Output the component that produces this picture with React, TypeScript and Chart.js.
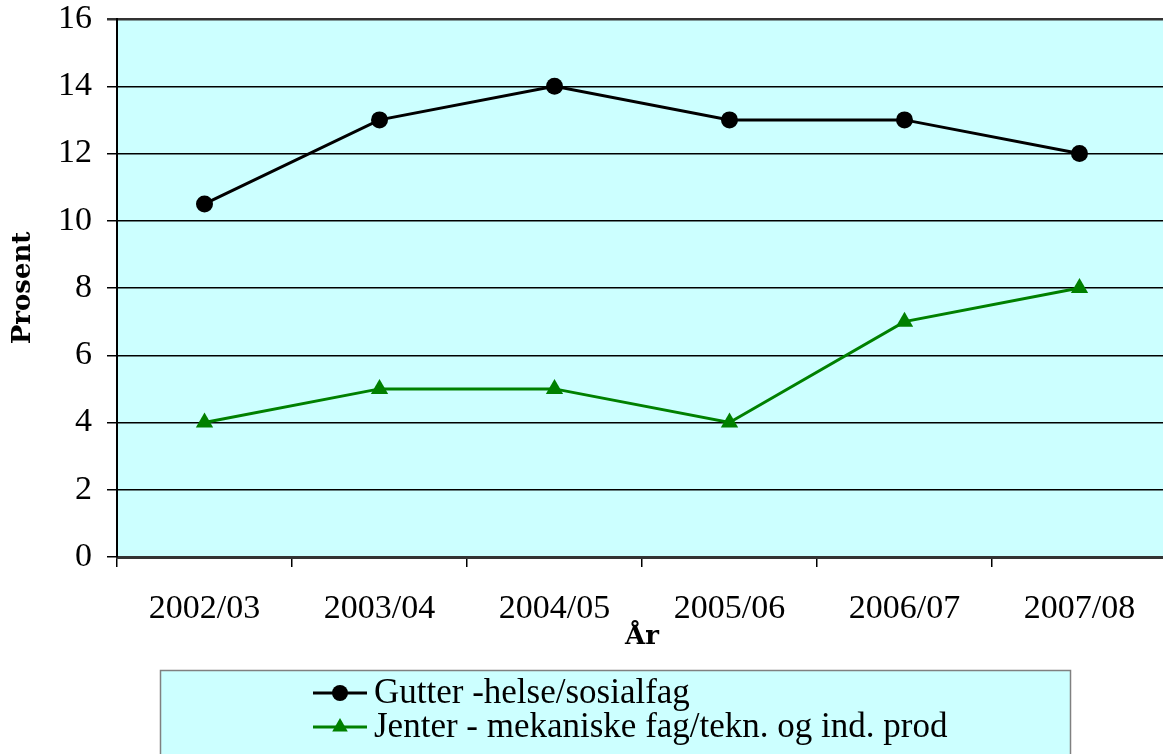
import React, { useEffect, useRef } from "react";
import { Chart, registerables } from "chart.js";

Chart.register(...registerables);

const categories = ["2002/03", "2003/04", "2004/05", "2005/06", "2006/07", "2007/08"];
const gutterLabel = "Gutter -helse/sosialfag";
const gutterValues = [10.5, 13, 14, 13, 13, 12];
const jenterLabel = "Jenter - mekaniske fag/tekn. og ind. prod";
const jenterValues = [4, 5, 5, 4, 7, 8];
const yAxisTitle = "Prosent";
const xAxisTitle = "År";

const BG = "#CCFFFF";
const SERIF = "'Liberation Serif', 'Times New Roman', serif";
const SERIF_BOLD = "'DejaVu Serif', serif";

const plotBackground = {
  id: "plotBackground",
  beforeDraw(chart: any) {
    const { ctx, chartArea } = chart;
    ctx.save();
    ctx.fillStyle = BG;
    ctx.fillRect(chartArea.left, chartArea.top, chartArea.right - chartArea.left, chartArea.bottom - chartArea.top);
    ctx.restore();
  },
};

const boxLegend = {
  id: "boxLegend",
  afterDraw(chart: any) {
    const { ctx } = chart;
    ctx.save();
    ctx.fillStyle = BG;
    ctx.strokeStyle = "#808080";
    ctx.lineWidth = 1.5;
    ctx.fillRect(160, 670, 910, 100);
    ctx.strokeRect(160.5, 670.5, 910, 100);
    const rows = [693, 727];
    chart.data.datasets.forEach((ds: any, i: number) => {
      const y = rows[i];
      ctx.strokeStyle = ds.borderColor;
      ctx.lineWidth = 3;
      ctx.beginPath();
      ctx.moveTo(313, y);
      ctx.lineTo(367, y);
      ctx.stroke();
      ctx.fillStyle = ds.pointBackgroundColor;
      ctx.beginPath();
      if (ds.pointStyle === "triangle") {
        const r = 9;
        ctx.moveTo(340, y - r);
        ctx.lineTo(340 + r * 0.866, y + r * 0.5);
        ctx.lineTo(340 - r * 0.866, y + r * 0.5);
        ctx.closePath();
      } else {
        ctx.arc(340, y, 8, 0, Math.PI * 2);
      }
      ctx.fill();
      ctx.fillStyle = "#000";
      ctx.font = `35px ${SERIF}`;
      ctx.textBaseline = "middle";
      ctx.textAlign = "left";
      ctx.fillText(ds.label, 374, y + 1);
    });
    ctx.restore();
  },
};

export default function App() {
  const ref = useRef<HTMLCanvasElement>(null);

  useEffect(() => {
    if (!ref.current) return;
    const chart = new Chart(ref.current, {
      type: "line",
      data: {
        labels: categories,
        datasets: [
          {
            label: gutterLabel,
            data: gutterValues,
            borderColor: "#000000",
            backgroundColor: "#000000",
            pointBackgroundColor: "#000000",
            pointBorderColor: "#000000",
            pointStyle: "circle",
            pointRadius: 8.5,
            pointBorderWidth: 0,
            borderWidth: 3,
            tension: 0,
            clip: false,
          },
          {
            label: jenterLabel,
            data: jenterValues,
            borderColor: "#008000",
            backgroundColor: "#008000",
            pointBackgroundColor: "#008000",
            pointBorderColor: "#008000",
            pointStyle: "triangle",
            pointRadius: 10,
            pointBorderWidth: 0,
            borderWidth: 3,
            tension: 0,
            clip: false,
          },
        ],
      },
      options: {
        responsive: false,
        animation: false,
        devicePixelRatio: 1,
        layout: { autoPadding: false, padding: { top: 19, right: 1, left: 0, bottom: 0 } },
        plugins: {
          legend: { display: false },
          tooltip: { enabled: false },
        },
        scales: {
          x: {
            type: "category",
            offset: true,
            afterFit: (s: any) => {
              s.height = 197;
              s.paddingLeft = 0;
              s.paddingRight = 0;
            },
            grid: {
              offset: true,
              drawOnChartArea: false,
              drawTicks: true,
              tickLength: 10,
              color: "#000000",
              lineWidth: 1.5,
            },
            border: { display: true, color: "#333333", width: 3 },
            ticks: {
              color: "#000000",
              font: { family: SERIF, size: 34 },
              padding: 22,
              maxRotation: 0,
            },
            title: {
              display: true,
              text: xAxisTitle,
              color: "#000000",
              font: { family: SERIF_BOLD, size: 26, weight: "bold" },
              padding: { top: 0, bottom: 101 },
            },
          },
          y: {
            min: 0,
            max: 16,
            afterFit: (s: any) => {
              s.width = 117;
              s.paddingTop = 0;
              s.paddingBottom = 0;
            },
            ticks: {
              stepSize: 2,
              color: "#000000",
              font: { family: SERIF, size: 34 },
              padding: 15,
            },
            grid: {
              color: (c: any) => (c.tick && c.tick.value === 16 ? "#333333" : "#000000"),
              lineWidth: (c: any) => (c.tick && c.tick.value === 16 ? 2.5 : 1.5),
              tickLength: 10,
              drawTicks: true,
            },
            border: { display: true, color: "#000000", width: 2 },
            title: {
              display: true,
              text: yAxisTitle,
              color: "#000000",
              font: { family: SERIF_BOLD, size: 26, weight: "bold" },
              padding: { top: 8, bottom: 0 },
            },
          },
        },
      },
      plugins: [plotBackground, boxLegend],
    });
    return () => chart.destroy();
  }, []);

  return (
    <div style={{ position: "absolute", left: 0, top: 0, width: 1163, height: 754, overflow: "hidden", background: "#fff" }}>
      <canvas ref={ref} width={1168} height={754} style={{ width: 1168, height: 754, display: "block" }} />
    </div>
  );
}
